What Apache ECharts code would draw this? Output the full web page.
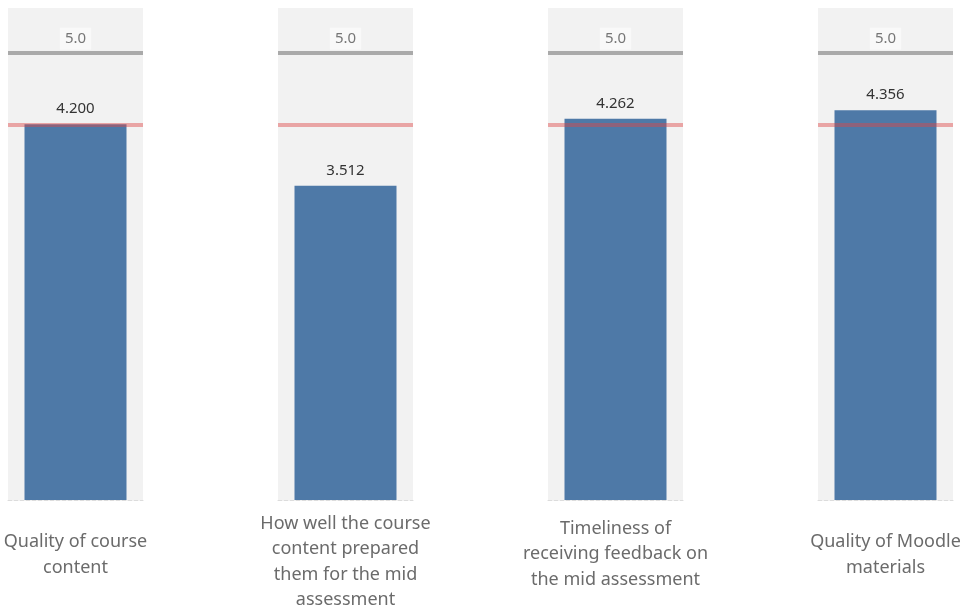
<!DOCTYPE html>
<html>
<head>
<meta charset="utf-8">
<script src="https://cdn.jsdelivr.net/npm/echarts@6/dist/echarts.min.js"></script>
<style>
html,body{margin:0;padding:0;background:#fff;}
#chart{width:968px;height:610px;}
</style>
</head>
<body>
<div id="chart"></div>
<script>
const categories = [
  "Quality of course\ncontent",
  "How well the course\ncontent prepared\nthem for the mid\nassessment",
  "Timeliness of\nreceiving feedback on\nthe mid assessment",
  "Quality of Moodle\nmaterials"
];
const values = [4.200, 3.512, 4.262, 4.356];
const maxScore = 5.0;
const referenceValue = 4.2;
const panelLefts = [8, 278, 548, 818];
const labelMargins = [55, 62, 54, 55];

const FONT = "Noto Sans";
const grids = [], xAxes = [], yAxes = [], series = [];
categories.forEach((cat, i) => {
  grids.push({
    left: panelLefts[i], width: 135, top: 8, bottom: 110,
    outerBoundsMode: 'none', containLabel: false,
    show: true, backgroundColor: '#f2f2f2', borderWidth: 0
  });
  xAxes.push({
    type: 'category', gridIndex: i, data: [cat],
    axisTick: {show: false},
    axisLine: {show: true, lineStyle: {color: '#dcdcdc', type: 'dashed', width: 1}},
    axisLabel: {
      interval: 0, margin: labelMargins[i], verticalAlign: 'middle',
      fontFamily: FONT, fontSize: 18, color: '#6b6b6b', lineHeight: 25.5, align: 'center'
    }
  });
  yAxes.push({
    type: 'value', gridIndex: i, min: 0, max: 5.5,
    show: false, splitLine: {show: false}
  });
  series.push({
    type: 'bar', xAxisIndex: i, yAxisIndex: i,
    data: [values[i]], barWidth: 102,
    itemStyle: {color: '#4e79a7'},
    label: {
      show: true, position: 'top', distance: 8,
      formatter: p => p.value.toFixed(3),
      fontFamily: FONT, fontSize: 15, color: '#333'
    },
    markLine: {
      silent: true, symbol: 'none', z: 10,
      data: [
        {
          yAxis: maxScore,
          lineStyle: {color: '#aaaaaa', width: 4, type: 'solid'},
          label: {
            show: true, position: 'insideMiddleTop', distance: 3,
            formatter: () => maxScore.toFixed(1),
            fontFamily: FONT, fontSize: 15, color: '#777',
            backgroundColor: '#f9f9f9', padding: [4, 5, 3, 5]
          }
        },
        {
          yAxis: referenceValue,
          lineStyle: {color: 'rgba(222,70,70,0.45)', width: 4, type: 'solid'},
          label: {show: false}
        }
      ]
    }
  });
});

const chart = echarts.init(document.getElementById('chart'));
chart.setOption({
  animation: false,
  grid: grids, xAxis: xAxes, yAxis: yAxes, series: series
});
</script>
</body>
</html>
